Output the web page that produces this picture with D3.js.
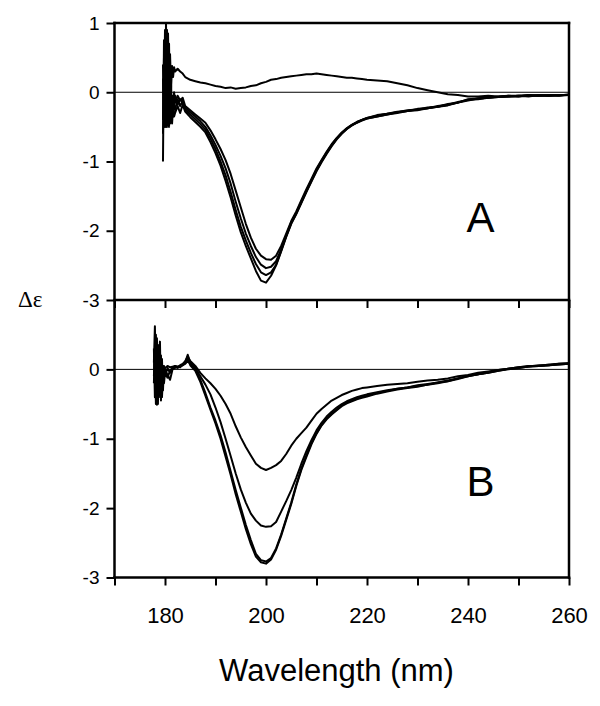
<!DOCTYPE html>
<html>
<head>
<meta charset="utf-8">
<script src="https://cdn.jsdelivr.net/npm/d3@7"></script>
<style>
  html, body { margin: 0; padding: 0; background: #fff; }
  svg { display: block; }
</style>
</head>
<body>
<svg id="chart" width="600" height="706"></svg>
<script>
// ---------------- DATA ----------------
const xTicks = [170, 180, 190, 200, 210, 220, 230, 240, 250, 260];
const xTickLabels = [180, 200, 220, 240, 260];
const yTicksA = [1, 0, -1, -2, -3];
const yTicksB = [0, -1, -2, -3];

// Panel A wavelengths (nm)
const wlA = [179.6,179.8,180.0,180.2,180.4,180.6,180.8,181.0,181.2,181.4,181.6,181.8,182.0,182.5,183.0,183.5,
  184,185,186,187,188,189,190,191,192,193,194,195,196,197,198,199,200,201,202,203,204,205,206,207,208,209,210,
  211,212,213,214,215,216,217,218,219,220,
  222,224,226,228,230,232,234,236,238,240,242,244,246,248,250,252,254,256,258,260];

const a0 = [-1.0,0.75,-0.2,1.0,-0.45,0.85,-0.1,0.55,0.05,0.38,0.22,0.36,0.30,0.34,0.30,0.27,
  0.22,0.18,0.16,0.14,0.13,0.11,0.09,0.08,0.06,0.07,0.05,0.06,0.07,0.09,0.10,0.13,0.15,0.18,0.19,0.21,0.22,
  0.23,0.24,0.25,0.26,0.26,0.27,0.26,0.25,0.24,0.23,0.22,0.21,0.21,0.20,0.19,0.18,
  0.17,0.16,0.13,0.10,0.06,0.03,0.00,-0.03,-0.04,-0.06,-0.06,-0.05,-0.06,-0.05,-0.05,-0.04,-0.05,-0.04,-0.05,-0.04];

const a1 = [-0.4,0.5,-0.3,0.8,-0.5,0.3,-0.4,0.2,-0.3,-0.05,-0.25,0.0,-0.15,-0.05,-0.12,-0.08,
  -0.20,-0.26,-0.32,-0.38,-0.44,-0.55,-0.68,-0.82,-0.98,-1.18,-1.42,-1.66,-1.90,-2.10,-2.26,-2.36,-2.41,-2.42,
  -2.36,-2.22,-2.04,-1.86,-1.72,-1.56,-1.40,-1.25,-1.10,-0.98,-0.86,-0.75,-0.66,-0.58,-0.52,-0.47,-0.43,-0.40,-0.37,
  -0.33,-0.31,-0.28,-0.27,-0.24,-0.23,-0.20,-0.18,-0.14,-0.11,-0.09,-0.07,-0.07,-0.05,-0.06,-0.04,-0.05,-0.04,-0.05,-0.03];

const a2 = [0.4,-0.5,0.6,-0.3,0.9,-0.45,0.4,-0.35,0.1,-0.3,-0.1,-0.2,-0.05,-0.18,-0.10,-0.15,
  -0.22,-0.29,-0.35,-0.42,-0.50,-0.62,-0.76,-0.92,-1.10,-1.32,-1.58,-1.82,-2.04,-2.22,-2.38,-2.49,-2.54,-2.52,
  -2.44,-2.27,-2.07,-1.88,-1.74,-1.58,-1.42,-1.27,-1.12,-0.99,-0.87,-0.76,-0.67,-0.59,-0.52,-0.47,-0.43,-0.40,-0.37,
  -0.34,-0.31,-0.29,-0.26,-0.25,-0.22,-0.21,-0.17,-0.15,-0.10,-0.09,-0.08,-0.06,-0.06,-0.05,-0.05,-0.04,-0.05,-0.04,-0.04];

const a3 = [-0.6,0.2,-0.5,0.6,-0.2,0.5,-0.5,0.0,-0.4,-0.1,-0.35,-0.2,-0.25,-0.1,-0.2,-0.12,
  -0.25,-0.32,-0.39,-0.46,-0.54,-0.67,-0.82,-1.00,-1.20,-1.44,-1.70,-1.94,-2.14,-2.32,-2.48,-2.60,-2.64,-2.60,
  -2.49,-2.29,-2.08,-1.89,-1.75,-1.59,-1.43,-1.28,-1.13,-1.00,-0.88,-0.77,-0.67,-0.59,-0.53,-0.48,-0.44,-0.40,-0.38,
  -0.35,-0.32,-0.29,-0.27,-0.25,-0.23,-0.21,-0.18,-0.15,-0.12,-0.09,-0.08,-0.07,-0.06,-0.06,-0.05,-0.05,-0.05,-0.04,-0.04];

const a4 = [0.2,-0.3,0.9,-0.5,0.4,-0.3,0.7,-0.45,-0.1,-0.45,-0.2,-0.35,-0.3,-0.2,-0.3,-0.18,
  -0.28,-0.36,-0.43,-0.50,-0.58,-0.72,-0.88,-1.06,-1.28,-1.52,-1.78,-2.02,-2.22,-2.40,-2.58,-2.72,-2.75,-2.65,
  -2.50,-2.30,-2.09,-1.90,-1.76,-1.60,-1.44,-1.29,-1.14,-1.01,-0.89,-0.78,-0.68,-0.60,-0.53,-0.48,-0.44,-0.41,-0.38,
  -0.35,-0.32,-0.30,-0.27,-0.26,-0.23,-0.21,-0.19,-0.15,-0.11,-0.10,-0.08,-0.07,-0.06,-0.05,-0.06,-0.04,-0.05,-0.04,-0.04];

// Panel B wavelengths (nm)
const wlB = [177.8,178.0,178.2,178.4,178.6,178.8,179.0,179.2,179.4,179.6,179.8,180.0,180.5,181.0,181.5,182.0,182.5,183.0,183.5,184.0,184.5,
  185,186,187,188,189,190,191,192,193,194,195,196,197,198,199,200,201,202,203,204,205,206,207,208,209,210,
  211,212,213,214,215,216,217,218,219,220,
  222,224,226,228,230,232,234,236,238,240,242,244,246,248,250,252,254,256,258,260];

const b1 = [0.1,0.62,-0.2,0.3,-0.45,0.2,-0.3,0.1,-0.35,0.05,-0.1,0.02,0.05,0.03,0.04,0.05,0.03,0.06,0.08,0.12,0.18,
  0.12,0.05,-0.05,-0.13,-0.20,-0.28,-0.38,-0.50,-0.64,-0.82,-0.98,-1.12,-1.24,-1.36,-1.42,-1.45,-1.42,-1.38,-1.32,-1.22,
  -1.10,-1.00,-0.92,-0.84,-0.74,-0.64,-0.57,-0.51,-0.45,-0.41,-0.37,-0.34,-0.31,-0.29,-0.27,-0.26,
  -0.24,-0.22,-0.21,-0.20,-0.18,-0.16,-0.15,-0.13,-0.10,-0.08,-0.05,-0.03,-0.01,0.01,0.03,0.04,0.05,0.06,0.07,0.08];

const b2 = [-0.2,0.3,-0.5,0.45,-0.1,-0.4,0.25,-0.3,0.0,-0.2,-0.05,0.0,-0.08,-0.15,0.0,0.02,0.04,0.05,0.06,0.10,0.21,
  0.10,0.02,-0.10,-0.22,-0.36,-0.55,-0.76,-1.00,-1.25,-1.50,-1.73,-1.92,-2.08,-2.18,-2.25,-2.27,-2.26,-2.20,-2.05,-1.90,
  -1.74,-1.56,-1.36,-1.18,-1.02,-0.88,-0.77,-0.68,-0.61,-0.55,-0.50,-0.46,-0.43,-0.40,-0.38,-0.36,
  -0.33,-0.30,-0.28,-0.26,-0.23,-0.21,-0.19,-0.16,-0.13,-0.10,-0.07,-0.05,-0.02,0.00,0.02,0.04,0.05,0.06,0.07,0.08];

const b3 = [0.3,-0.4,0.5,-0.51,0.2,-0.2,0.4,-0.45,0.15,-0.3,0.05,-0.1,0.02,-0.05,0.03,0.04,0.02,0.05,0.06,0.08,0.12,
  0.08,0.0,-0.15,-0.34,-0.55,-0.74,-0.95,-1.20,-1.47,-1.74,-1.99,-2.24,-2.46,-2.66,-2.75,-2.77,-2.72,-2.58,-2.38,-2.15,
  -1.92,-1.66,-1.43,-1.24,-1.06,-0.92,-0.80,-0.71,-0.64,-0.58,-0.52,-0.48,-0.45,-0.42,-0.40,-0.38,
  -0.34,-0.31,-0.28,-0.26,-0.24,-0.22,-0.19,-0.17,-0.13,-0.09,-0.07,-0.04,-0.01,0.01,0.03,0.05,0.05,0.07,0.08,0.09];

const b4 = [-0.1,0.2,-0.3,0.1,-0.5,0.35,-0.25,0.2,-0.4,-0.1,-0.2,-0.05,-0.12,-0.02,0.02,0.05,0.04,0.03,0.07,0.10,0.15,
  0.06,-0.02,-0.18,-0.38,-0.58,-0.78,-1.00,-1.26,-1.52,-1.80,-2.05,-2.30,-2.52,-2.70,-2.78,-2.80,-2.74,-2.60,-2.40,-2.17,
  -1.94,-1.68,-1.45,-1.26,-1.08,-0.93,-0.81,-0.72,-0.65,-0.59,-0.53,-0.49,-0.46,-0.43,-0.41,-0.39,
  -0.35,-0.32,-0.29,-0.27,-0.25,-0.22,-0.20,-0.17,-0.14,-0.10,-0.07,-0.05,-0.02,0.01,0.02,0.04,0.06,0.06,0.08,0.09];

const seriesA = [a0, a1, a2, a3, a4];
const seriesB = [b1, b2, b3, b4];

// ---------------- LAYOUT ----------------
const svg = d3.select("#chart");
const left = 114.5, right = 569;
const topA = 23, mid = 300, bottomB = 577.5;
const FONT = "Liberation Sans, Arial, sans-serif";

const x = d3.scaleLinear().domain([170, 260]).range([left, right]);
const yA = d3.scaleLinear().domain([-3, 1]).range([mid, topA]);
const yB = d3.scaleLinear().domain([-3, 1]).range([bottomB, mid]);

// zero reference lines
[yA, yB].forEach(y => {
  svg.append("line")
    .attr("x1", left).attr("x2", right)
    .attr("y1", y(0)).attr("y2", y(0))
    .attr("stroke", "#000").attr("stroke-width", 1);
});

// curves
function drawCurves(wl, series, y) {
  const line = d3.line().x((d, i) => x(wl[i])).y(d => y(d));
  svg.append("g").selectAll("path").data(series).join("path")
    .attr("d", d => line(d))
    .attr("fill", "none")
    .attr("stroke", "#000")
    .attr("stroke-width", 2)
    .attr("stroke-linejoin", "round");
}
drawCurves(wlA, seriesA, yA);
drawCurves(wlB, seriesB, yB);

// axes
function styleAxis(g, fontSize) {
  g.selectAll(".tick line").attr("stroke", "#000").attr("stroke-width", 2);
  g.selectAll(".tick text").attr("fill", "#000").style("font-family", FONT).style("font-size", fontSize + "px");
  g.select(".domain").remove();
}
const fmt = d => String(d);

svg.append("g").attr("transform", `translate(${left},0)`)
  .call(d3.axisLeft(yA).tickValues(yTicksA).tickFormat(fmt).tickSize(8).tickPadding(7))
  .call(g => styleAxis(g, 19));
svg.append("g").attr("transform", `translate(${left},0)`)
  .call(d3.axisLeft(yB).tickValues(yTicksB).tickFormat(fmt).tickSize(8).tickPadding(7))
  .call(g => styleAxis(g, 19));

// shared middle axis ticks (no labels)
svg.append("g").attr("transform", `translate(0,${mid})`)
  .call(d3.axisBottom(x).tickValues(xTicks).tickFormat("").tickSize(8))
  .call(g => styleAxis(g, 19));

// bottom axis
svg.append("g").attr("transform", `translate(0,${bottomB})`)
  .call(d3.axisBottom(x).tickValues(xTicks)
    .tickFormat(d => xTickLabels.includes(d) ? String(d) : "")
    .tickSize(8).tickPadding(22))
  .call(g => styleAxis(g, 22));

// frame lines
const frame = [
  [left, topA, right, topA],
  [left, mid, right, mid],
  [left, bottomB, right, bottomB],
  [left, topA, left, bottomB],
  [right, topA, right, bottomB]
];
svg.append("g").selectAll("line").data(frame).join("line")
  .attr("x1", d => d[0]).attr("y1", d => d[1])
  .attr("x2", d => d[2]).attr("y2", d => d[3])
  .attr("stroke", "#000").attr("stroke-width", 2.5)
  .attr("stroke-linecap", "square");

// panel letters
svg.append("text").attr("x", 480.5).attr("y", 232).attr("text-anchor", "middle")
  .style("font-family", FONT).style("font-size", "42px").text("A");
svg.append("text").attr("x", 480.5).attr("y", 496).attr("text-anchor", "middle")
  .style("font-family", FONT).style("font-size", "42px").text("B");

// y label
svg.append("text").attr("x", 18).attr("y", 307)
  .style("font-family", "Liberation Serif, Times New Roman, serif").style("font-size", "23px")
  .text("Δε");

// x title
svg.append("text").attr("x", 336.5).attr("y", 681).attr("text-anchor", "middle")
  .style("font-family", FONT).style("font-size", "31px").text("Wavelength (nm)");
</script>
</body>
</html>
